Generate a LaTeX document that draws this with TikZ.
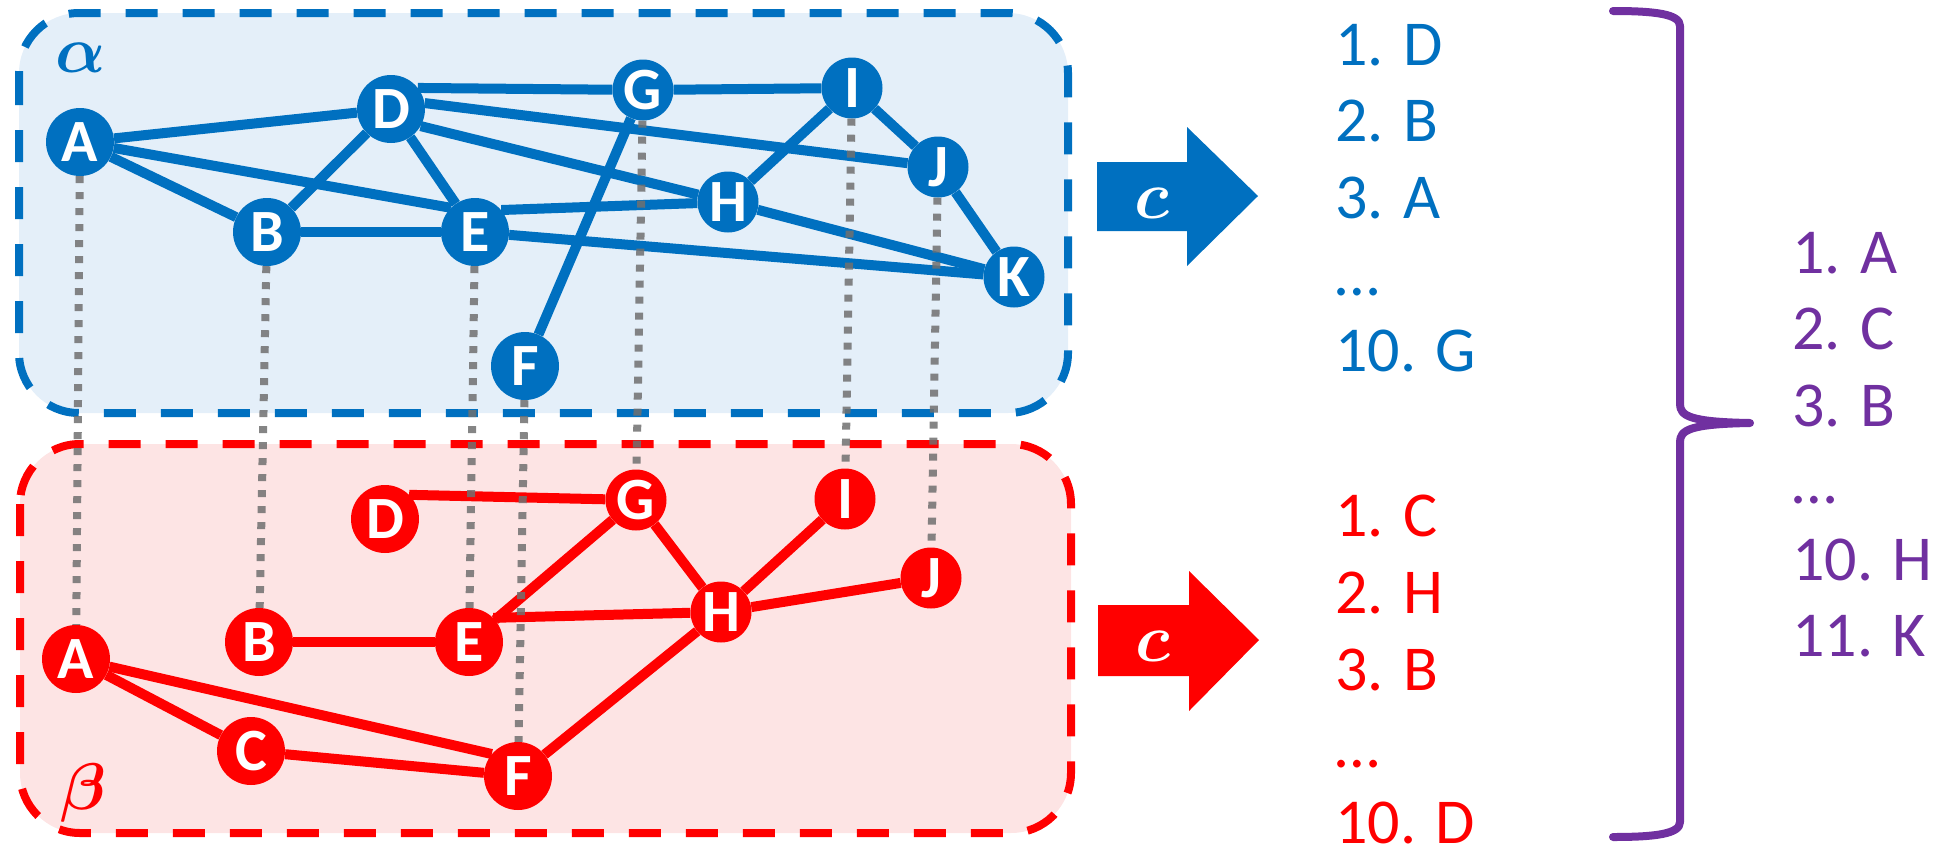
\RequirePackage{fix-cm}
\documentclass[tikz,border=0pt]{standalone}
\usepackage{amsmath}
\usepackage{fontspec}
\setmainfont{Carlito}
\definecolor{gblue}{HTML}{0070C0}
\definecolor{gred}{HTML}{FF0000}
\definecolor{gpurple}{HTML}{7030A0}
\definecolor{bfill}{RGB}{228,239,249}
\definecolor{rfill}{RGB}{253,228,228}
\definecolor{dotgray}{RGB}{112,112,112}
\pgfdeclarelayer{bg}
\pgfdeclarelayer{edges}
\pgfsetlayers{bg,edges,main}
\begin{document}
\begin{tikzpicture}[x=1pt,y=-1pt,
  gnode/.style={circle, inner sep=0pt, minimum size=#1, text=white,
    font=\fontsize{60}{60}\selectfont\bfseries},
  big/.style={gnode=68},
  small/.style={gnode=61},
  bn/.style={fill=gblue},
  rn/.style={fill=gred},
  bedge/.style={draw=gblue, line width=10pt},
  redge/.style={draw=gred, line width=10pt},
  dotline/.style={draw=dotgray, draw opacity=0.85, line width=8pt, dash pattern=on 7pt off 9pt},
  panel/.style={line width=8pt, dash pattern=on 32pt off 25pt, rounded corners=60pt},
  listtext/.style={anchor=base west, inner sep=0pt, font=\fontsize{64}{77}\selectfont},
  greek/.style={inner sep=0pt, font=\fontsize{66}{66}\selectfont},
  arrowlabel/.style={inner sep=0pt, text=white, font=\fontsize{68}{68}\selectfont},
  brace/.style={draw=gpurple, line width=8pt, line cap=round, line join=round}
]
\useasboundingbox (0,0) rectangle (1936,849);

% panels
\begin{pgfonlayer}{bg}
  \draw[panel, draw=gblue, fill=bfill] (19,13) rectangle (1068,413);
  \draw[panel, draw=gred, fill=rfill] (20,444) rectangle (1071,833);
\end{pgfonlayer}

\node[greek, text=gblue] (alpha) at (81,58) {$\boldsymbol{\alpha}$};
\node[greek, text=gred] (beta) at (83,793) {$\boldsymbol{\beta}$};

% upper graph
\node[big, bn] (bA) at (80,142) {A};
\node[big, bn] (bD) at (391,109) {D};
\node[small, bn] (bG) at (643,90) {G};
\node[big, bn] (bB) at (267,232) {B};
\node[big, bn] (bE) at (475,232) {E};
\node[big, bn] (bF) at (525,366) {F};
\node[small, bn] (bI) at (852,88) {I};
\node[small, bn] (bH) at (728,202) {H};
\node[small, bn] (bJ) at (938,167) {J};
\node[small, bn] (bK) at (1014,277) {K};

% lower graph
\node[big, rn] (rA) at (76,659) {A};
\node[big, rn] (rB) at (259,642) {B};
\node[big, rn] (rE) at (469,642) {E};
\node[big, rn] (rD) at (385,519) {D};
\node[small, rn] (rG) at (636,500) {G};
\node[big, rn] (rC) at (251,751) {C};
\node[big, rn] (rF) at (518,776) {F};
\node[small, rn] (rI) at (845,499) {I};
\node[small, rn] (rJ) at (931,578) {J};
\node[small, rn] (rH) at (721,612) {H};

\begin{pgfonlayer}{edges}
  % upper graph edges
  \draw[bedge] (bA) -- (bD);
  \draw[bedge] (bA) -- (bB);
  \draw[bedge] (bA) -- (bE.135);
  \draw[bedge] (bD.38) -- (bG);
  \draw[bedge] (bD) -- (bB);
  \draw[bedge] (bD) -- (bE);
  \draw[bedge] (bD.10) -- (bJ);
  \draw[bedge] (bD.-30) -- (bH);
  \draw[bedge] (bG) -- (bI);
  \draw[bedge] (bG) -- (bF);
  \draw[bedge] (bB) -- (bE);
  \draw[bedge] (bE.40) -- (bH);
  \draw[bedge] (bE) -- (bK);
  \draw[bedge] (bI) -- (bH);
  \draw[bedge] (bI) -- (bJ);
  \draw[bedge] (bJ) -- (bK);
  \draw[bedge] (bH) -- (bK);
  % lower graph edges
  \draw[redge] (rD.45) -- (rG);
  \draw[redge] (rG) -- (rE);
  \draw[redge] (rG) -- (rH);
  \draw[redge] (rB) -- (rE);
  \draw[redge] (rE.45) -- (rH);
  \draw[redge] (rA) -- (rC);
  \draw[redge] (rA) -- (rF.140);
  \draw[redge] (rC) -- (rF);
  \draw[redge] (rF) -- (rH);
  \draw[redge] (rH) -- (rI);
  \draw[redge] (rH) -- (rJ);
\end{pgfonlayer}

% correspondences between the two graphs
\foreach \n in {A, B, E, F, G, I, J}
  \draw[dotline] (b\n) -- (r\n);

% arrows
\fill[gblue] (1097,162) -- (1187,162) -- (1187,127) -- (1258,196)
  -- (1187,266) -- (1187,231) -- (1097,231) -- cycle;
\node[arrowlabel] (cb) at (1152,203) {$\boldsymbol{c}$};
\fill[gred] (1098,605) -- (1189,605) -- (1189,571) -- (1259,640)
  -- (1189,711) -- (1189,676) -- (1098,676) -- cycle;
\node[arrowlabel] (cr) at (1153,646) {$\boldsymbol{c}$};

% ranked lists
\node[listtext, text=gblue] (b1) at (1335,65) {1. D};
\node[listtext, text=gblue] (b2) at (1335,141) {2. B};
\node[listtext, text=gblue] (b3) at (1335,218) {3. A};
\node[listtext, text=gblue] (b4) at (1335,295) {…};
\node[listtext, text=gblue] (b5) at (1335,371) {10. G};

\node[listtext, text=gred] (r1) at (1335,536) {1. C};
\node[listtext, text=gred] (r2) at (1335,613) {2. H};
\node[listtext, text=gred] (r3) at (1335,690) {3. B};
\node[listtext, text=gred] (r4) at (1335,767) {…};
\node[listtext, text=gred] (r5) at (1335,843) {10. D};

\node[listtext, text=gpurple] (p1) at (1792,273) {1. A};
\node[listtext, text=gpurple] (p2) at (1792,349) {2. C};
\node[listtext, text=gpurple] (p3) at (1792,426) {3. B};
\node[listtext, text=gpurple] (p4) at (1792,503) {…};
\node[listtext, text=gpurple] (p5) at (1792,580) {10. H};
\node[listtext, text=gpurple] (p6) at (1792,656) {11. K};

% merging brace
\draw[brace] (1613,11) .. controls (1655,11) and (1680,14) .. (1680,26)
  -- (1680,404) .. controls (1680,416) and (1690,422) .. (1750,423)
  .. controls (1690,424) and (1680,430) .. (1680,442)
  -- (1680,822) .. controls (1680,834) and (1655,837) .. (1613,837);
\end{tikzpicture}
\end{document}
